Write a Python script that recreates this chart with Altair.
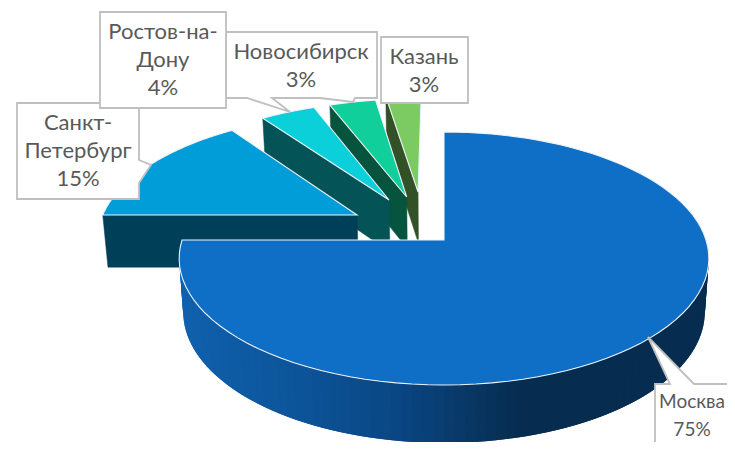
import math
import altair as alt

# Slices (clockwise from 12 o'clock), painted back to front
names = ["Москва", "Санкт-\nПетербург", "Ростов-на-\nДону", "Новосибирск", "Казань"]
shares = [75, 15, 4, 3.4, 2.6]
top_colors = ["#0F6FC6", "#009DD9", "#0BD0D9", "#10CF9B", "#7CCA62"]
wall_colors = ["#062C4F", "#003F58", "#045357", "#06533E", "#325127"]
explode_u = [0.0, -0.342, -0.22, -0.15, -0.105]
explode_v = [0.0, -0.208, -0.339, -0.366, -0.411]
paint_order = [4, 3, 2, 1, 0]

# Moscow side-wall shading: (screen x, colour)
wall_stops_x = [180, 300, 400, 470, 520]
wall_stops_c = ["#1061AE", "#0C5499", "#0A4683", "#083764", "#062C4F"]

# Perspective of the top and bottom disc planes
CX, K = 444.0, 0.146
TOP = dict(b=262.0, y0=240.0, a=123.8)
BOT = dict(b=258.0, y0=293.0, a=128.0)

# Label callouts: polygon outline, text centre
label_boxes = {
    3: [(226, 32), (377, 32), (377, 98), (355, 98), (353, 102), (320, 98), (272, 98), (290, 112), (247, 98), (226, 98)],
    4: [(381, 37), (468, 37), (468, 103), (381, 103)],
    1: [(17, 103), (139, 103), (139, 160), (151, 165), (139, 183), (139, 199), (17, 199)],
    2: [(100, 12), (226, 12), (226, 108), (100, 108)],
    0: [(655, 384), (670, 384), (648, 337), (694, 384), (770, 384), (770, 480), (655, 480)],
}
label_x = [692, 78, 163, 301, 424]
label_y = [416, 151, 60, 66, 71]
label_size = [19, 22, 22, 22, 22]
box_paint = [3, 4, 1, 2, 0]
LINE_HEIGHT = 28
TEXT_COLOR = "#595959"
BOX_COLOR = "#BFBFBF"
RIM_COLOR = "#EEF3F9"


def project(u, v, plane):
    w = 1 - K * v
    return [CX + plane["b"] * u / w, plane["y0"] + plane["a"] * v / w]


def rim(i, deg, plane):
    t = math.radians(deg)
    return project(explode_u[i] + math.sin(t), explode_v[i] - math.cos(t), plane)


def apex(i, plane):
    return project(explode_u[i], explode_v[i], plane)


def shade(x):
    if x <= wall_stops_x[0]:
        return wall_stops_c[0]
    for j in range(1, len(wall_stops_x)):
        if x <= wall_stops_x[j]:
            f = (x - wall_stops_x[j - 1]) / (wall_stops_x[j] - wall_stops_x[j - 1])
            a, b = wall_stops_c[j - 1], wall_stops_c[j]
            rgb = [round(int(a[k:k + 2], 16) * (1 - f) + int(b[k:k + 2], 16) * f) for k in (1, 3, 5)]
            return "#%02X%02X%02X" % tuple(rgb)
    return wall_stops_c[-1]


def poly(points, fill, stroke, width):
    ring = [list(p) for p in points]
    ring.append(ring[0])
    return {
        "type": "Feature",
        "properties": {"fill": fill, "stroke": stroke, "sw": width},
        "geometry": {"type": "Polygon", "coordinates": [ring]},
    }


starts, acc = [], 0.0
for s in shares:
    starts.append(acc * 3.6)
    acc += s

features = []
for i in paint_order:
    a0, a1 = starts[i], starts[i] + shares[i] * 3.6
    if i == 0:
        steps = list(range(76, 271, 2))
        for d0, d1 in zip(steps[:-1], steps[1:]):
            d2 = min(d1 + 2, 270)
            q = [rim(i, d0, TOP), rim(i, d2, TOP), rim(i, d2, BOT), rim(i, d0, BOT)]
            c = shade((rim(i, d0, BOT)[0] + rim(i, d1, BOT)[0]) / 2)
            features.append(poly(q, c, "transparent", 0))
    else:
        q = [apex(i, TOP), rim(i, a0, TOP), rim(i, a0, BOT), apex(i, BOT)]
        features.append(poly(q, wall_colors[i], wall_colors[i], 0.5))
    arc = [rim(i, a0 + (a1 - a0) * j / 90, TOP) for j in range(91)]
    features.append(poly([apex(i, TOP)] + arc, top_colors[i], RIM_COLOR, 1.1))

for i in box_paint:
    features.append(poly(label_boxes[i], "#FFFFFF", BOX_COLOR, 1.8))

proj = dict(type="identity", scale=1, translate=[-8, -8])

shapes = (
    alt.Chart(alt.Data(values={"type": "FeatureCollection", "features": features},
                       format=alt.DataFormat(type="json", property="features")))
    .mark_geoshape(clip=False)
    .encode(
        fill=alt.Color("properties.fill:N", scale=None),
        stroke=alt.Color("properties.stroke:N", scale=None),
        strokeWidth=alt.StrokeWidth("properties.sw:Q", scale=None),
    )
    .project(**proj)
)

rows = []
for n, s, x, y, fs in zip(names, shares, label_x, label_y, label_size):
    label = f"{n}\n{round(s)}%"
    first_line_y = y - (label.count("\n")) * LINE_HEIGHT / 2
    rows.append({"label": label, "lon": x, "lat": first_line_y, "fs": fs})

texts = (
    alt.Chart(alt.Data(values=rows))
    .mark_text(font="Lato", color=TEXT_COLOR, lineBreak="\n", lineHeight=LINE_HEIGHT,
               align="center", baseline="middle")
    .encode(longitude="lon:Q", latitude="lat:Q", text="label:N",
            size=alt.Size("fs:Q", scale=None))
    .project(**proj)
)

chart = (
    alt.layer(shapes, texts)
    .properties(width=719, height=434, padding=0, background="white",
                autosize=alt.AutoSizeParams(type="none", contains="padding"))
    .configure_view(stroke=None)
)
chart.save("out.html", embed_options={"renderer": "svg", "actions": False})
